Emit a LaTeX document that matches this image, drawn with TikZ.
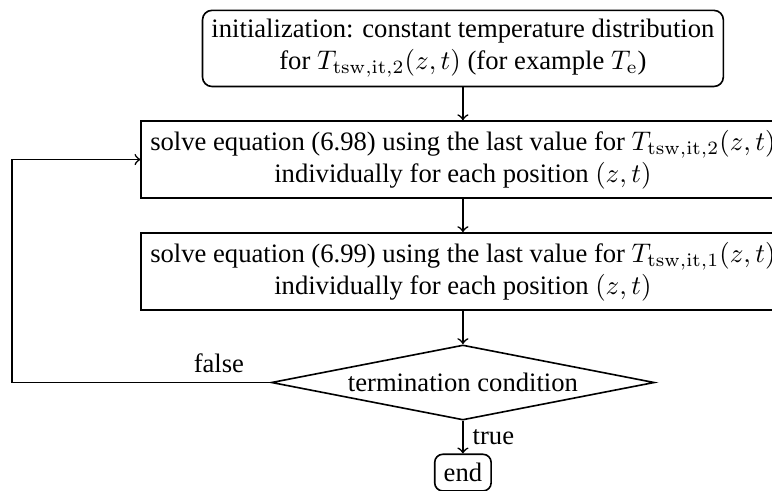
\documentclass[tikz,border=0pt]{standalone}
\usepackage[no-math]{fontspec}
\setmainfont{Liberation Serif}
\usetikzlibrary{shapes.geometric}

\tikzset{
  flow/.style={line width=0.6pt},
  startbox/.style={flow, draw, rounded corners=3.5pt, align=center},
  stepbox/.style={flow, draw, align=center},
  decision/.style={flow, draw, diamond, inner sep=0pt, shape aspect=5.1,
                   minimum width=142.4pt, minimum height=27.9pt},
  endbox/.style={flow, draw, rounded corners=3pt},
  link/.style={flow, ->},
}

\begin{document}
\begin{tikzpicture}[every node/.style={font=\fontsize{9.9pt}{11.9pt}\selectfont}]
  \useasboundingbox (0,0) rectangle (287pt,-182.5pt);

  \node[startbox] (init) at (172.1pt,-18pt)
    {initialization: constant temperature distribution\\
     for $T_{\mathrm{tsw,it},2}(z,t)$ (for example $T_{\mathrm{e}}$)};
  \node[stepbox] (solveA) at (172.1pt,-59.3pt)
    {solve equation (6.98) using the last value for $T_{\mathrm{tsw,it},2}(z,t)$\\
     individually for each position $(z,t)$};
  \node[stepbox] (solveB) at (172.1pt,-100.9pt)
    {solve equation (6.99) using the last value for $T_{\mathrm{tsw,it},1}(z,t)$\\
     individually for each position $(z,t)$};
  \node[decision] (cond) at (172.1pt,-142.2pt) {termination condition};
  \node[endbox] (stop) at (172.1pt,-175.7pt) {end};

  \coordinate (loop) at (4.5pt,-142.2pt);

  \draw[link] (init) -- (solveA);
  \draw[link] (solveA) -- (solveB);
  \draw[link] (solveB) -- (cond);
  \draw[link] (cond) -- node[right] {true} (stop);
  \draw[flow] (cond.west) -- node[above, pos=0.2] {false} (loop);
  \draw[link] (loop) |- (solveA.west);
\end{tikzpicture}
\end{document}
